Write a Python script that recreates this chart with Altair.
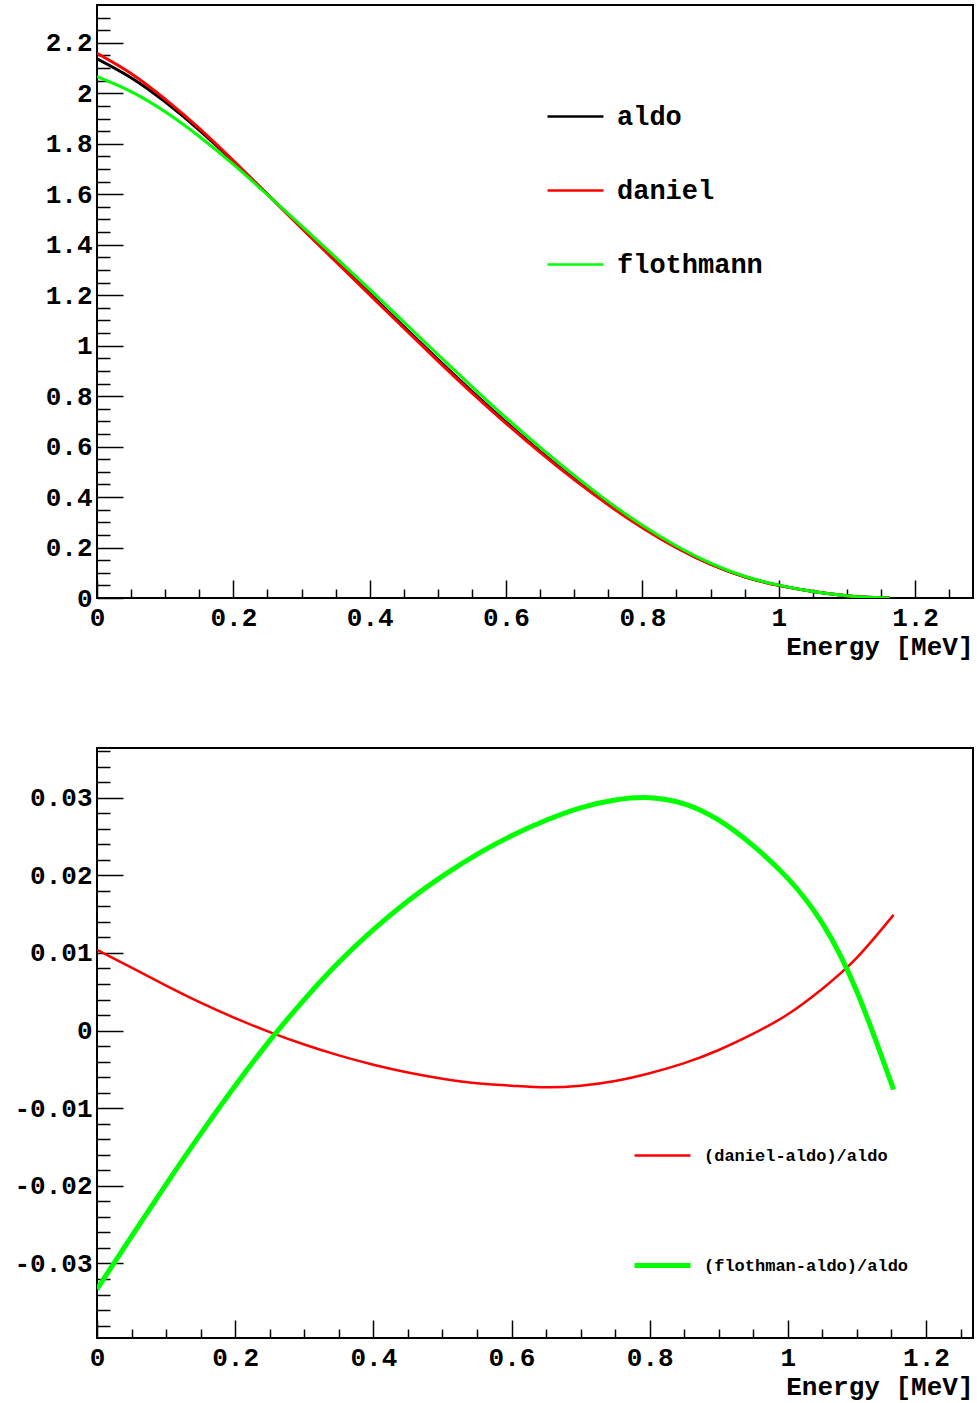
import altair as alt
import pandas as pd

FONT = "Liberation Mono"

# ---------------- top panel data (spectra) ----------------
energy = [0.0, 0.05, 0.1, 0.15, 0.2, 0.25, 0.3, 0.35, 0.4, 0.45, 0.5, 0.55, 0.6,
          0.65, 0.7, 0.75, 0.8, 0.85, 0.9, 0.95, 1.0, 1.05, 1.1, 1.13, 1.163]
aldo = [2.137, 2.062, 1.966, 1.854, 1.730, 1.600, 1.469, 1.338, 1.207, 1.076, 0.946,
        0.819, 0.697, 0.581, 0.472, 0.371, 0.280, 0.200, 0.134, 0.084, 0.050, 0.026,
        0.009, 0.003, 0.0]
daniel = [2.159, 2.079, 1.977, 1.861, 1.733, 1.600, 1.466, 1.334, 1.202, 1.070, 0.940,
          0.813, 0.692, 0.577, 0.469, 0.369, 0.278, 0.199, 0.134, 0.084, 0.050, 0.026,
          0.009, 0.003, 0.0]
flothmann = [2.066, 2.007, 1.927, 1.829, 1.718, 1.598, 1.475, 1.350, 1.223, 1.094, 0.965,
             0.838, 0.714, 0.597, 0.486, 0.382, 0.288, 0.206, 0.138, 0.086, 0.051, 0.026,
             0.009, 0.003, 0.0]
top_names = ["aldo", "daniel", "flothmann"]

# ---------------- bottom panel data (relative differences) ----------------
rel_energy = [0.0, 0.05, 0.1, 0.15, 0.2, 0.25, 0.3, 0.35, 0.4, 0.45, 0.5, 0.55, 0.6,
              0.65, 0.7, 0.75, 0.8, 0.85, 0.9, 0.95, 1.0, 1.05, 1.1, 1.153]
rel_daniel = [0.0104, 0.0081, 0.0058, 0.0036, 0.0016, -0.0002, -0.0018, -0.0032, -0.0044,
              -0.0054, -0.0062, -0.0068, -0.0071, -0.0073, -0.0071, -0.0065, -0.0055,
              -0.0042, -0.0025, -0.0004, 0.0021, 0.0054, 0.0094, 0.0149]
rel_flothman = [-0.0333, -0.0265, -0.0198, -0.0133, -0.0071, -0.0013, 0.0040, 0.0088,
                0.0130, 0.0167, 0.0199, 0.0227, 0.0251, 0.0271, 0.0287, 0.0297, 0.0300,
                0.0292, 0.0271, 0.0238, 0.0196, 0.0138, 0.0050, -0.0076]
bot_names = ["(daniel-aldo)/aldo", "(flothman-aldo)/aldo"]

# ---------------- axis ticks ----------------
x_major = [0, 0.2, 0.4, 0.6, 0.8, 1, 1.2]
x_minor = [0.05, 0.1, 0.15, 0.25, 0.3, 0.35, 0.45, 0.5, 0.55, 0.65, 0.7, 0.75,
           0.85, 0.9, 0.95, 1.05, 1.1, 1.15, 1.25]
top_y_major = [0, 0.2, 0.4, 0.6, 0.8, 1, 1.2, 1.4, 1.6, 1.8, 2, 2.2]
top_y_minor = [round(0.05 * i, 2) for i in range(1, 47) if i % 4 != 0]
bot_y_major = [-0.03, -0.02, -0.01, 0, 0.01, 0.02, 0.03]
bot_y_minor = [round(0.002 * i, 3) for i in range(-19, 19) if i % 5 != 0]

W, H_TOP, H_BOT = 876, 593, 590
LBL = 26


def main_axes(yvals, title_pad):
    xa = alt.Axis(orient="bottom", values=x_major, labelExpr="'' + datum.value",
                  ticks=False, domain=False, grid=False, labelOverlap=False,
                  labelFont=FONT, labelFontWeight="bold", labelFontSize=LBL,
                  labelColor="black", labelPadding=6, labelFlush=False,
                  title="Energy [MeV]", titleFont=FONT, titleFontWeight="bold",
                  titleFontSize=26, titleColor="black", titleAnchor="end",
                  titlePadding=title_pad)
    ya = alt.Axis(orient="left", values=yvals, labelExpr="'' + datum.value",
                  ticks=False, domain=False, grid=False, labelOverlap=False,
                  labelFont=FONT, labelFontWeight="bold", labelFontSize=LBL,
                  labelColor="black", labelPadding=5, title=None, labelFlush=False)
    return xa, ya


def tick_layer(df, xs, ys, xvals, yvals, xlen, ylen):
    return alt.Chart(df).mark_line(strokeOpacity=0).encode(
        x=alt.X("energy:Q", scale=xs,
                axis=alt.Axis(orient="bottom", values=xvals, offset=-xlen, tickSize=xlen,
                              labels=False, domain=False, grid=False, title=None,
                              tickColor="black", tickWidth=1.5)),
        y=alt.Y("value:Q", scale=ys,
                axis=alt.Axis(orient="left", values=yvals, offset=-ylen, tickSize=ylen,
                              labels=False, domain=False, grid=False, title=None,
                              tickColor="black", tickWidth=1.5)),
    )


# ---------------- top panel ----------------
n = len(energy)
top_df = pd.DataFrame({
    "energy": energy * 3,
    "value": aldo + daniel + flothmann,
    "series": [top_names[0]] * n + [top_names[1]] * n + [top_names[2]] * n,
})
xs_top = alt.Scale(domain=[0, 1.285], nice=False, zero=False)
ys_top = alt.Scale(domain=[0, 2.35], nice=False, zero=False)
xa, ya = main_axes(top_y_major, 3)

top_lines = alt.Chart(top_df).mark_line(strokeWidth=3, clip=True, interpolate="natural").encode(
    x=alt.X("energy:Q", scale=xs_top, axis=xa),
    y=alt.Y("value:Q", scale=ys_top, axis=ya),
    color=alt.Color("series:N",
                    scale=alt.Scale(domain=top_names, range=["#000000", "#ff0000", "#00ff00"]),
                    legend=alt.Legend(orient="none", legendX=449, legendY=82, title=None,
                                      symbolType="stroke", symbolSize=3136,
                                      symbolStrokeWidth=2.5, labelFont=FONT,
                                      labelFontSize=27, labelFontWeight="bold",
                                      labelColor="black", rowPadding=31, labelOffset=12,
                                      labelLimit=0, padding=0)),
)
top = alt.layer(
    top_lines,
    tick_layer(top_df, xs_top, ys_top, x_major, top_y_major, 18, 26),
    tick_layer(top_df, xs_top, ys_top, x_minor, top_y_minor, 9, 13),
).resolve_axis(x="independent", y="independent").properties(width=W, height=H_TOP)

# ---------------- bottom panel ----------------
m = len(rel_energy)
bot_df = pd.DataFrame({
    "energy": rel_energy * 2,
    "value": rel_daniel + rel_flothman,
    "series": [bot_names[0]] * m + [bot_names[1]] * m,
})
xs_bot = alt.Scale(domain=[0, 1.268], nice=False, zero=False)
ys_bot = alt.Scale(domain=[-0.0396, 0.0364], nice=False, zero=False)
xa2, ya2 = main_axes(bot_y_major, 3)

bot_legend = dict(orient="none", legendX=535, legendY=378, title=None,
                  symbolType="stroke", symbolSize=3136, labelFont=FONT,
                  labelFontSize=17, labelFontWeight="bold", labelColor="black",
                  rowPadding=71, labelOffset=11, labelLimit=0, padding=0)

bot_lines = alt.Chart(bot_df).mark_line(clip=True, interpolate="natural").encode(
    x=alt.X("energy:Q", scale=xs_bot, axis=xa2),
    y=alt.Y("value:Q", scale=ys_bot, axis=ya2),
    color=alt.Color("series:N",
                    scale=alt.Scale(domain=bot_names, range=["#ff0000", "#00ff00"]),
                    legend=alt.Legend(**bot_legend)),
    strokeWidth=alt.StrokeWidth("series:N",
                                scale=alt.Scale(domain=bot_names, range=[2.5, 5]),
                                legend=alt.Legend(**bot_legend)),
)
bottom = alt.layer(
    bot_lines,
    tick_layer(bot_df, xs_bot, ys_bot, x_major, bot_y_major, 18, 26),
    tick_layer(bot_df, xs_bot, ys_bot, x_minor, bot_y_minor, 9, 13),
).resolve_axis(x="independent", y="independent").properties(width=W, height=H_BOT)

chart = alt.vconcat(top, bottom, spacing=87).resolve_scale(
    color="independent", strokeWidth="independent"
).properties(
    padding={"left": 12, "top": 4, "right": 3, "bottom": 2},
    background="white",
).configure_view(stroke="black", strokeWidth=2)

chart.save("out.html", embed_options={"renderer": "svg", "actions": False})
